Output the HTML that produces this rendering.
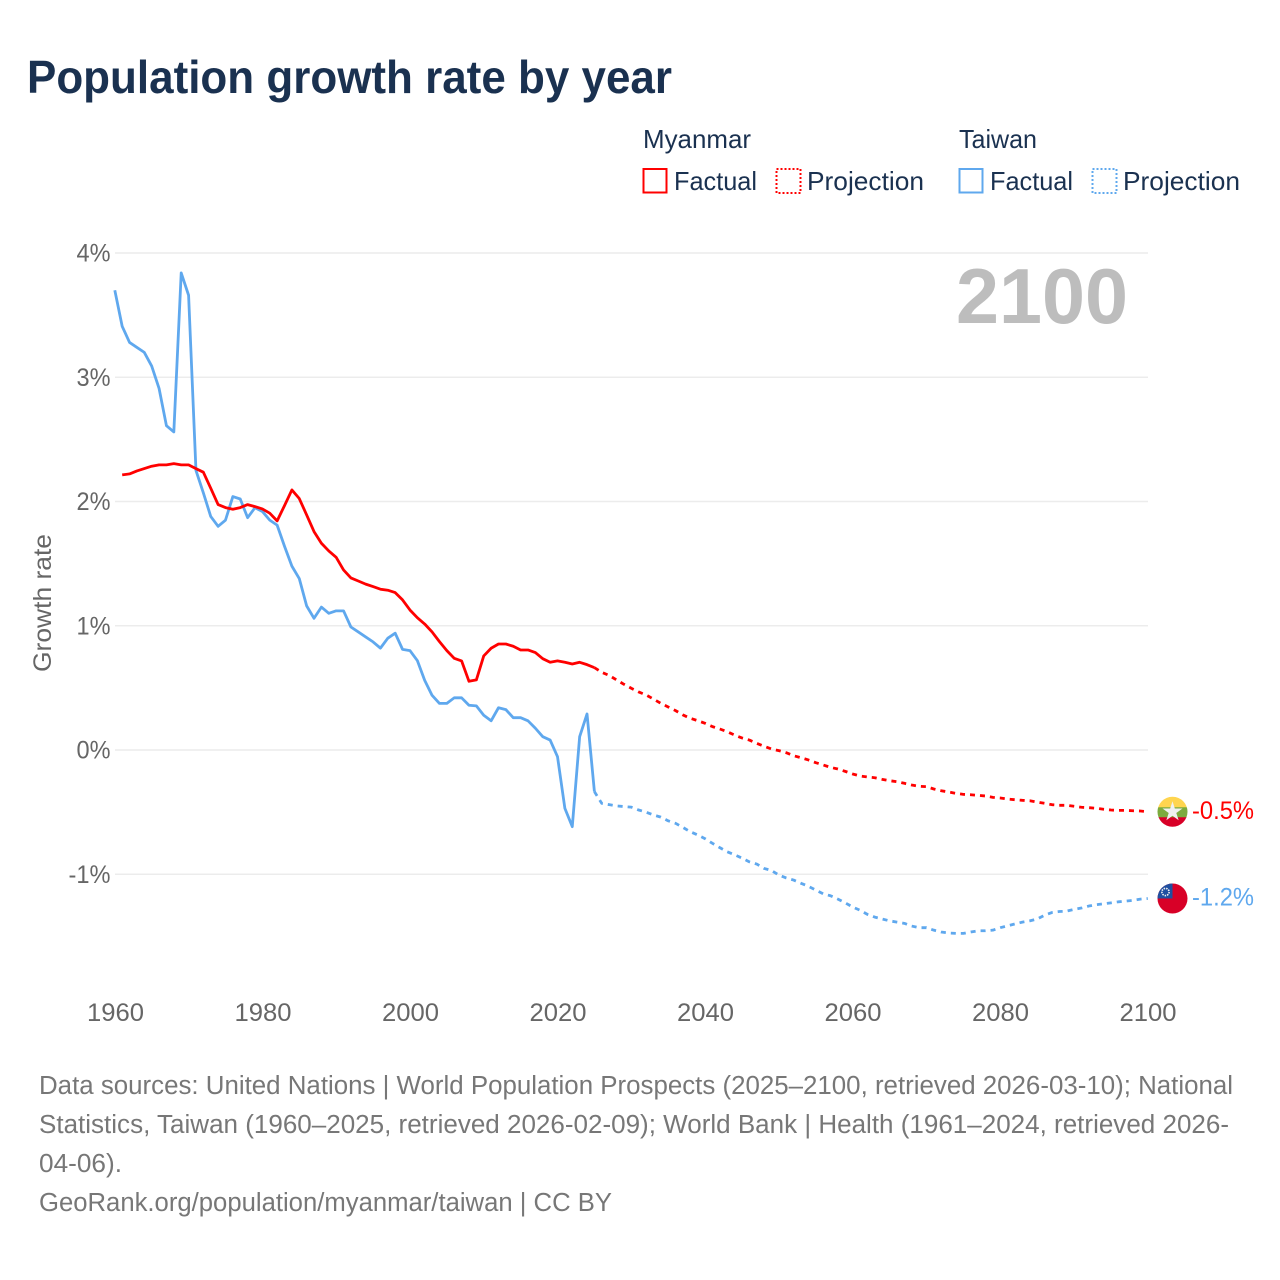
<!DOCTYPE html>
<html lang="en">
<head>
<meta charset="utf-8">
<title>Population growth rate by year</title>
<style>
html,body{margin:0;padding:0;background:#fff;width:1280px;height:1280px;overflow:hidden}
svg{display:block}
text{font-family:"Liberation Sans",sans-serif}
.legend{font-size:26px;fill:#1a3150}
.foot{font-size:25.5px;fill:#777}
.tick{font-size:25px;fill:#666}
</style>
</head>
<body>
<svg id="chart" xmlns="http://www.w3.org/2000/svg" width="1280" height="1280" viewBox="0 0 1280 1280">
  <rect x="0" y="0" width="1280" height="1280" fill="#fff"/>
  <text x="27" y="93" font-size="46" font-weight="700" fill="#1a3150" textLength="645" lengthAdjust="spacingAndGlyphs">Population growth rate by year</text>

  <g>
    <text class="legend" x="643" y="148" textLength="108" lengthAdjust="spacingAndGlyphs">Myanmar</text>
    <text class="legend" x="959" y="148" textLength="78" lengthAdjust="spacingAndGlyphs">Taiwan</text>
    <rect x="643.5" y="169" width="23" height="23.5" fill="none" stroke="#ff0000" stroke-width="2"/>
    <text class="legend" x="674" y="190" textLength="83" lengthAdjust="spacingAndGlyphs">Factual</text>
    <rect x="776.5" y="169" width="24" height="24" fill="none" stroke="#ff0000" stroke-width="2" stroke-dasharray="2 2"/>
    <text class="legend" x="807" y="190" textLength="117" lengthAdjust="spacingAndGlyphs">Projection</text>
    <rect x="959.5" y="169" width="23" height="23.5" fill="none" stroke="#5fa8ee" stroke-width="2"/>
    <text class="legend" x="990" y="190" textLength="83" lengthAdjust="spacingAndGlyphs">Factual</text>
    <rect x="1092.5" y="169" width="24" height="24" fill="none" stroke="#5fa8ee" stroke-width="2" stroke-dasharray="2 2"/>
    <text class="legend" x="1123" y="190" textLength="117" lengthAdjust="spacingAndGlyphs">Projection</text>
  </g>

  <g id="grid"></g>
  <g id="yticks"></g>
  <g id="xticks"></g>

  <text transform="translate(51,603) rotate(-90)" text-anchor="middle" font-size="25" fill="#666" textLength="138" lengthAdjust="spacingAndGlyphs">Growth rate</text>
  <text x="956" y="323" font-size="78" font-weight="700" fill="#bdbdbd" textLength="172" lengthAdjust="spacingAndGlyphs">2100</text>

  <g id="series"></g>
  <g id="ends"></g>

  <g>
    <text class="foot" x="39" y="1094" textLength="1194" lengthAdjust="spacingAndGlyphs">Data sources: United Nations | World Population Prospects (2025–2100, retrieved 2026-03-10); National</text>
    <text class="foot" x="39" y="1133" textLength="1190" lengthAdjust="spacingAndGlyphs">Statistics, Taiwan (1960–2025, retrieved 2026-02-09); World Bank | Health (1961–2024, retrieved 2026-</text>
    <text class="foot" x="39" y="1172" textLength="83" lengthAdjust="spacingAndGlyphs">04-06).</text>
    <text class="foot" x="39" y="1211" textLength="573" lengthAdjust="spacingAndGlyphs">GeoRank.org/population/myanmar/taiwan | CC BY</text>
  </g>
</svg>

<script>
const yTickValues = [4, 3, 2, 1, 0, -1];
const xTickYears = [1960, 1980, 2000, 2020, 2040, 2060, 2080, 2100];

const myanmarFactualStart = 1961;
const myanmarFactual = [
  2.214,2.222,2.246,2.265,2.284,2.295,2.295,2.305,2.295,2.295,
  2.265,2.236,2.107,1.975,1.951,1.938,1.951,1.975,1.959,1.94,
  1.906,1.844,1.967,2.093,2.024,1.892,1.758,1.664,1.602,1.551,
  1.449,1.385,1.36,1.335,1.315,1.294,1.286,1.267,1.208,1.127,
  1.065,1.014,0.95,0.872,0.80,0.738,0.717,0.553,0.564,0.757,
  0.819,0.853,0.853,0.835,0.805,0.805,0.784,0.735,0.706,0.717,
  0.706,0.692,0.706,0.687,0.663
];

const myanmarProjectionStart = 2025;
const myanmarProjection = [
  0.663,0.625,0.60,0.564,0.529,0.497,0.467,0.443,0.41,0.376,
  0.346,0.317,0.282,0.255,0.236,0.215,0.188,0.169,0.147,0.12,
  0.097,0.08,0.054,0.03,0.008,-0.005,-0.022,-0.046,-0.062,-0.08,
  -0.102,-0.12,-0.14,-0.153,-0.172,-0.193,-0.209,-0.217,-0.223,-0.236,
  -0.247,-0.255,-0.268,-0.282,-0.292,-0.295,-0.314,-0.328,-0.338,-0.349,
  -0.357,-0.36,-0.365,-0.37,-0.381,-0.386,-0.395,-0.40,-0.405,-0.408,
  -0.419,-0.429,-0.44,-0.445,-0.445,-0.453,-0.461,-0.464,-0.469,-0.477,
  -0.483,-0.486,-0.486,-0.489,-0.491,-0.497
];

const taiwanFactualStart = 1960;
const taiwanFactual = [
  3.70,3.41,3.28,3.24,3.20,3.09,2.91,2.61,2.56,3.84,
  3.66,2.25,2.07,1.88,1.80,1.85,2.04,2.02,1.87,1.95,
  1.92,1.85,1.81,1.64,1.48,1.38,1.16,1.06,1.15,1.10,
  1.12,1.12,0.99,0.95,0.91,0.87,0.82,0.90,0.94,0.81,
  0.80,0.72,0.56,0.44,0.375,0.375,0.42,0.42,0.36,0.355,
  0.28,0.235,0.34,0.325,0.26,0.26,0.235,0.175,0.107,0.08,
  -0.054,-0.47,-0.617,0.107,0.29,-0.335
];

const taiwanProjectionStart = 2025;
const taiwanProjection = [
  -0.335,-0.43,-0.44,-0.45,-0.455,-0.46,-0.483,-0.50,-0.523,-0.54,
  -0.57,-0.59,-0.623,-0.658,-0.684,-0.714,-0.751,-0.786,-0.819,-0.843,
  -0.87,-0.90,-0.918,-0.953,-0.97,-1.007,-1.03,-1.047,-1.073,-1.097,
  -1.127,-1.157,-1.173,-1.20,-1.23,-1.264,-1.29,-1.323,-1.345,-1.36,
  -1.375,-1.385,-1.395,-1.417,-1.43,-1.43,-1.45,-1.465,-1.473,-1.476,
  -1.476,-1.465,-1.455,-1.455,-1.45,-1.43,-1.415,-1.40,-1.385,-1.375,
  -1.36,-1.33,-1.308,-1.30,-1.297,-1.283,-1.272,-1.256,-1.245,-1.238,
  -1.23,-1.222,-1.216,-1.21,-1.20,-1.195
];

const NS = 'http://www.w3.org/2000/svg';
const RED = '#ff0000';
const BLUE = '#5fa8ee';
const xScale = function (year) { return 114.8 + (year - 1960) * (1147.8 - 114.8) / 140; };
const xTickScale = function (year) { return 115.5 + (year - 1960) * (1148 - 115.5) / 140; };
const yScale = function (value) { return 750 - value * 124.25; };

function make(tag, attrs, parent) {
  const el = document.createElementNS(NS, tag);
  Object.keys(attrs).forEach(function (k) { el.setAttribute(k, attrs[k]); });
  parent.appendChild(el);
  return el;
}

const gridG = document.getElementById('grid');
const yG = document.getElementById('yticks');
const xG = document.getElementById('xticks');
const seriesG = document.getElementById('series');
const endsG = document.getElementById('ends');

yTickValues.forEach(function (v) {
  const line = make('line', { x1: 115, x2: 1148, y1: yScale(v), y2: yScale(v), stroke: '#ececec', 'stroke-width': 1.5 }, gridG);
  
  
  const label = v + '%';
  const t = make('text', { x: 110.5, y: yScale(v) + 8.5, 'text-anchor': 'end', class: 'tick', textLength: label.length === 2 ? 34 : 42, lengthAdjust: 'spacingAndGlyphs' }, yG);
  t.textContent = label;
  
  
});

xTickYears.forEach(function (y) {
  const t = make('text', { x: xTickScale(y), y: 1021, 'text-anchor': 'middle', class: 'tick', textLength: 57, lengthAdjust: 'spacingAndGlyphs' }, xG);
  t.textContent = String(y);
  
  
});

function pathFor(values, start) {
  return values.map(function (v, i) {
    return (i ? 'L' : 'M') + xScale(start + i).toFixed(2) + ' ' + yScale(v).toFixed(2);
  }).join(' ');
}

function drawLine(values, start, color, dashed) {
  const attrs = { d: pathFor(values, start), fill: 'none', stroke: color, 'stroke-width': 2.8, 'stroke-linejoin': 'round' };
  if (dashed) { attrs['stroke-dasharray'] = '5 5'; attrs['stroke-dashoffset'] = 0; }
  return make('path', attrs, seriesG);
}

const taiwanFactualLine = drawLine(taiwanFactual, taiwanFactualStart, BLUE, false);


const taiwanProjectionLine = drawLine(taiwanProjection, taiwanProjectionStart, BLUE, true);


const myanmarFactualLine = drawLine(myanmarFactual, myanmarFactualStart, RED, false);


const myanmarProjectionLine = drawLine(myanmarProjection, myanmarProjectionStart, RED, true);



/* End-of-line flags and value labels follow the last projected values */
const mmLast = myanmarProjection[myanmarProjection.length - 1];
const twLast = taiwanProjection[taiwanProjection.length - 1];
const flagX = 1172.5;
const mmY = yScale(mmLast);
const twY = yScale(twLast);
const FLAG_R = 15;

const defs = make('defs', {}, endsG);
const mmClip = make('clipPath', { id: 'mm-clip' }, defs);
make('circle', { cx: flagX, cy: mmY, r: FLAG_R }, mmClip);
const twClip = make('clipPath', { id: 'tw-clip' }, defs);
make('circle', { cx: flagX, cy: twY, r: FLAG_R }, twClip);

const mmFlag = make('g', { 'clip-path': 'url(#mm-clip)' }, endsG);


make('rect', { x: flagX - 16, y: mmY - 16, width: 32, height: 12, fill: '#ffd54f' }, mmFlag);
make('rect', { x: flagX - 16, y: mmY - 4.5, width: 32, height: 10.5, fill: '#7cab3e' }, mmFlag);
make('rect', { x: flagX - 16, y: mmY + 5.5, width: 32, height: 11, fill: '#d80027' }, mmFlag);
const starPts = [];
for (let i = 0; i < 10; i++) {
  const rad = i % 2 ? 4 : 10.5;
  const a = -Math.PI / 2 + i * Math.PI / 5;
  starPts.push((flagX + rad * Math.cos(a)).toFixed(2) + ',' + (mmY + rad * Math.sin(a)).toFixed(2));
}
make('polygon', { points: starPts.join(' '), fill: '#f0f0f0' }, mmFlag);

const twFlag = make('g', { 'clip-path': 'url(#tw-clip)' }, endsG);


make('rect', { x: flagX - 16, y: twY - 16, width: 32, height: 32, fill: '#d80027' }, twFlag);
make('rect', { x: flagX - 16, y: twY - 16, width: 16, height: 16, fill: '#1f4fa0' }, twFlag);
make('circle', { cx: flagX - 7, cy: twY - 6.5, r: 3.6, fill: 'none', stroke: '#f0f0f0', 'stroke-width': 1.6, 'stroke-dasharray': '1.5 1' }, twFlag);

const mmLabel = make('text', { x: 1192, y: mmY + 7, 'font-size': 25, fill: RED, textLength: 62, lengthAdjust: 'spacingAndGlyphs' }, endsG);
mmLabel.textContent = mmLast.toFixed(1) + '%';



const twLabel = make('text', { x: 1192, y: twY + 7, 'font-size': 25, fill: BLUE, textLength: 62, lengthAdjust: 'spacingAndGlyphs' }, endsG);
twLabel.textContent = twLast.toFixed(1) + '%';


</script>
</body>
</html>
